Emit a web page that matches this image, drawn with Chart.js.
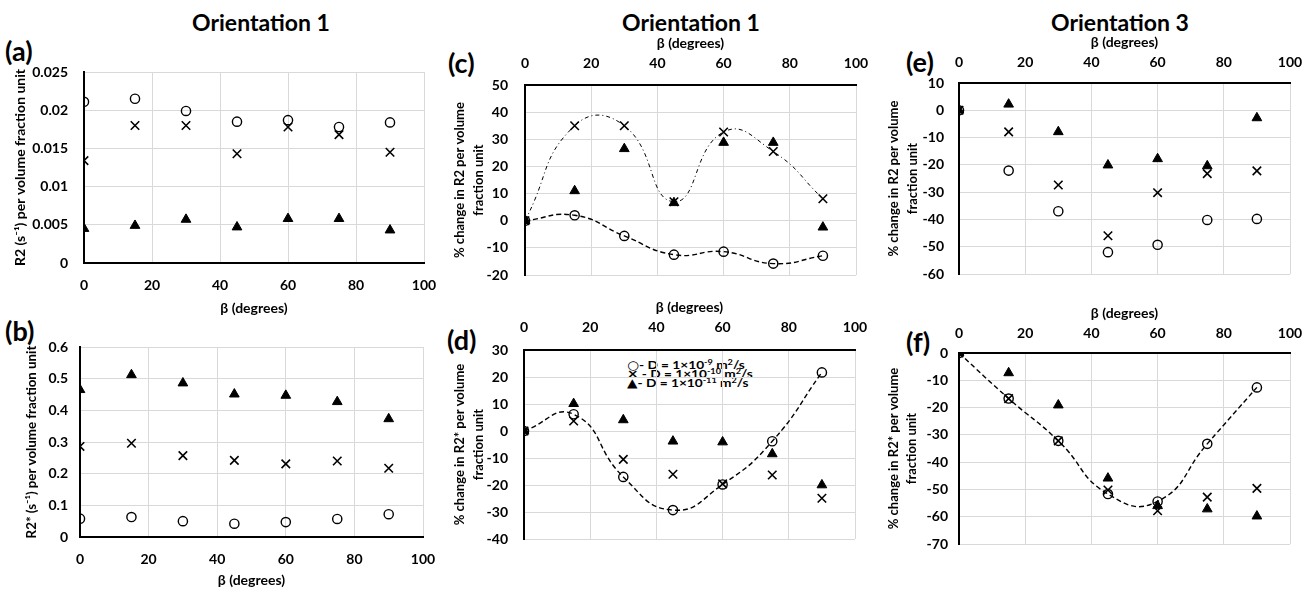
<!DOCTYPE html>
<html>
<head>
<meta charset="utf-8">
<script src="https://cdn.jsdelivr.net/npm/chart.js@4/dist/chart.umd.min.js"></script>
<style>
  html, body { margin: 0; padding: 0; background: #fff; overflow: hidden; }
  #fig { position: relative; width: 1313px; height: 591px; font-family: Lato, 'Open Sans', sans-serif; font-weight: bold; color: #000; overflow: hidden; }
  #fig canvas { position: absolute; }
  .lbl { position: absolute; font-size: 27px; line-height: 27px; white-space: nowrap; }
  .ttl { position: absolute; font-size: 23px; line-height: 23px; transform: translateX(-50%); white-space: nowrap; }
  .leg { position: absolute; font-size: 12px; line-height: 12px; height: 12px; white-space: nowrap; transform: scaleX(1.14); transform-origin: 0 0; }
  .leg sup { font-size: 8px; line-height: 0; vertical-align: 4px; }
  .leg .mk { font-family: 'DejaVu Sans', sans-serif; font-size: 12px; line-height: 0; }
</style>
</head>
<body>
<div id="fig">
  <div class="ttl" style="left:261px;top:11px">Orientation 1</div>
  <div class="ttl" style="left:691px;top:11px">Orientation 1</div>
  <div class="ttl" style="left:1120px;top:11px">Orientation 3</div>
  <div class="lbl" style="left:5px;top:37px">(a)</div>
  <div class="lbl" style="left:5px;top:317px">(b)</div>
  <div class="lbl" style="left:448px;top:49px">(c)</div>
  <div class="lbl" style="left:447px;top:326px">(d)</div>
  <div class="lbl" style="left:906px;top:48px">(e)</div>
  <div class="lbl" style="left:906px;top:328px">(f)</div>
  <div class="leg" style="left:627px;top:359px"><span class="mk">○</span>- D = 1×10<sup>-9</sup> m<sup>2</sup>/s</div>
  <div class="leg" style="left:627px;top:368px"><span class="mk">×</span> - D = 1×10<sup>-10</sup> m<sup>2</sup>/s</div>
  <div class="leg" style="left:627px;top:377px"><span class="mk">▲</span>- D = 1×10<sup>-11</sup> m<sup>2</sup>/s</div>
</div>
<script>
// angle beta, degrees
const betas = [0, 15, 30, 45, 60, 75, 90];

// (a) R2 per volume fraction unit, orientation 1
const aCircle = [0.0211, 0.0215, 0.0199, 0.0185, 0.0187, 0.0178, 0.0184];
const aCross  = [0.0134, 0.0180, 0.0180, 0.0143, 0.0178, 0.0168, 0.0145];
const aTri    = [0.0045, 0.0049, 0.0057, 0.0047, 0.0058, 0.0058, 0.0043];

// (b) R2* per volume fraction unit, orientation 1
const bCircle = [0.058, 0.063, 0.050, 0.042, 0.047, 0.057, 0.072];
const bCross  = [0.286, 0.296, 0.257, 0.242, 0.231, 0.240, 0.217];
const bTri    = [0.465, 0.512, 0.486, 0.451, 0.447, 0.427, 0.373];

// (c) % change in R2, orientation 1
const cCircle = [0, 2, -5.6, -12.5, -11.4, -15.8, -12.9];
const cCross  = [0, 35, 35, 7, 32.7, 25.5, 8.1];
const cTri    = [0, 11, 26.5, 6.6, 28.8, 28.8, -2.4];

// (d) % change in R2*, orientation 1
const dCircle = [0, 6.2, -17, -29.3, -19.8, -3.8, 21.7];
const dCross  = [0, 3.7, -10.5, -16, -19.6, -16.3, -24.9];
const dTri    = [0, 10.1, 4.1, -3.8, -4.1, -8.5, -20];

// (e) % change in R2, orientation 3
const eCircle = [0, -22.1, -37, -52, -49.3, -40.2, -39.8];
const eCross  = [0, -7.9, -27.4, -46, -30.2, -23.2, -22.2];
const eTri    = [0, 2.2, -7.9, -20.1, -17.8, -20.4, -2.8];

// (f) % change in R2*, orientation 3
const fCircle = [0, -16.7, -32.2, -51.7, -54.4, -33.3, -12.6];
const fCross  = [0, -16.7, -32.2, -50.2, -57.8, -52.8, -49.6];
const fTri    = [0, -7.3, -19.1, -45.9, -56, -57.2, -59.8];

const xTitle = 'β (degrees)';
const r2Title = ['% change in R2 per volume', 'fraction unit'];
const r2sTitle = ['% change in R2* per volume', 'fraction unit'];

const FONT = 'Lato';
const fig = document.getElementById('fig');

function pts(vals) {
  return betas.map((b, i) => ({ x: b, y: vals[i] }));
}

function circles(vals, dash) {
  return {
    data: pts(vals), pointStyle: 'circle', pointRadius: 4.6, pointBorderWidth: 1.4,
    pointBorderColor: '#000', pointBackgroundColor: 'rgba(0,0,0,0)',
    showLine: !!dash, borderColor: '#000', borderWidth: 1.4, borderDash: dash || [], tension: 0.5
  };
}
function crosses(vals, dash) {
  return {
    data: pts(vals), pointStyle: 'crossRot', pointRadius: 6, pointBorderWidth: 1.6,
    pointBorderColor: '#000', pointBackgroundColor: '#000',
    showLine: !!dash, borderColor: '#000', borderWidth: 1, borderDash: dash || [], tension: 0.5
  };
}
function triangles(vals) {
  return {
    data: pts(vals), pointStyle: 'triangle', pointRadius: 5.6, pointBorderWidth: 1,
    pointBorderColor: '#000', pointBackgroundColor: '#000', showLine: false
  };
}

function makePanel(p) {
  const cv = document.createElement('canvas');
  cv.width = p.w;
  cv.height = p.h;
  cv.style.left = p.x + 'px';
  cv.style.top = p.y + 'px';
  fig.appendChild(cv);
  const tickFont = { family: FONT, size: 14, weight: 'bold' };
  new Chart(cv, {
    type: 'scatter',
    data: { datasets: p.datasets },
    options: {
      responsive: false,
      animation: false,
      devicePixelRatio: 1,
      layout: { padding: p.pad },
      plugins: { legend: { display: false }, tooltip: { enabled: false } },
      scales: {
        x: {
          type: 'linear', position: p.xPos, min: 0, max: 100,
          ticks: { stepSize: 20, padding: p.xTickPad, font: tickFont, color: '#000' },
          grid: { color: '#d9d9d9', lineWidth: 1, drawTicks: false },
          border: { color: '#000', width: 2 },
          title: { display: true, text: xTitle, color: '#000', font: tickFont,
                   padding: { top: p.xTitlePad, bottom: p.xTitlePad } },
          afterFit(s) { s.height = p.axisH; }
        },
        y: {
          type: 'linear', min: p.yMin, max: p.yMax,
          ticks: { stepSize: p.yStep, padding: p.yTickPad, font: tickFont, color: '#000',
                   callback: v => String(+v.toFixed(4)) },
          grid: { color: '#d9d9d9', lineWidth: 1, drawTicks: false },
          border: { color: '#000', width: 2 },
          title: { display: true, text: p.yTitle, color: '#000',
                   font: { family: FONT, size: p.yTitleSize, weight: 'bold', lineHeight: 1.45 },
                   padding: { top: p.yTitlePad, bottom: 0 } },
          afterFit(s) { s.width = p.yW; }
        }
      }
    }
  });
}

const dashed = [5, 3];
const dashDot = [4, 3, 1, 3];

makePanel({ x: 0, y: 42, w: 454, h: 281, pad: { top: 30, right: 30, bottom: 0, left: 0 },
  xPos: 'bottom', axisH: 60, xTickPad: 13.6, xTitlePad: 6.6,
  yW: 84, yTickPad: 16, yTitlePad: 10.8, yTitleSize: 14, yMin: 0, yMax: 0.025, yStep: 0.005,
  yTitle: 'R2 (s⁻¹) per volume fraction unit',
  datasets: [circles(aCircle), crosses(aCross), triangles(aTri)] });

makePanel({ x: 0, y: 317, w: 453, h: 274, pad: { top: 30, right: 30, bottom: 0, left: 0 },
  xPos: 'bottom', axisH: 54, xTickPad: 13.6, xTitlePad: 2.6,
  yW: 80, yTickPad: 12, yTitlePad: 22.2, yTitleSize: 13.3, yMin: 0, yMax: 0.6, yStep: 0.1,
  yTitle: 'R2* (s⁻¹) per volume fraction unit',
  datasets: [circles(bCircle), crosses(bCross), triangles(bTri)] });

makePanel({ x: 450, y: 28, w: 436, h: 277, pad: { top: 0, right: 30, bottom: 30, left: 0 },
  xPos: 'top', axisH: 57, xTickPad: 13.6, xTitlePad: 6.6,
  yW: 75, yTickPad: 17, yTitlePad: 0.6, yTitleSize: 13, yMin: -20, yMax: 50, yStep: 10,
  yTitle: r2Title,
  datasets: [circles(cCircle, dashed), crosses(cCross, dashDot), triangles(cTri)] });

makePanel({ x: 449, y: 292, w: 436, h: 277, pad: { top: 0, right: 30, bottom: 30, left: 0 },
  xPos: 'top', axisH: 58, xTickPad: 14.6, xTitlePad: 6.6,
  yW: 75, yTickPad: 16, yTitlePad: 1.6, yTitleSize: 13, yMin: -40, yMax: 30, yStep: 10,
  yTitle: r2sTitle,
  datasets: [circles(dCircle, dashed), crosses(dCross), triangles(dTri)] });

makePanel({ x: 884, y: 27, w: 436, h: 277, pad: { top: 0, right: 30, bottom: 30, left: 0 },
  xPos: 'top', axisH: 56, xTickPad: 12.6, xTitlePad: 6.6,
  yW: 75, yTickPad: 15, yTitlePad: 0.6, yTitleSize: 13, yMin: -60, yMax: 10, yStep: 10,
  yTitle: r2Title,
  datasets: [circles(eCircle), crosses(eCross), triangles(eTri)] });

makePanel({ x: 884, y: 298, w: 436, h: 276, pad: { top: 0, right: 30, bottom: 30, left: 0 },
  xPos: 'top', axisH: 55, xTickPad: 11.6, xTitlePad: 6.6,
  yW: 75, yTickPad: 11, yTitlePad: 0, yTitleSize: 13, yMin: -70, yMax: 0, yStep: 10,
  yTitle: r2sTitle,
  datasets: [circles(fCircle, dashed), crosses(fCross), triangles(fTri)] });
</script>
</body>
</html>
